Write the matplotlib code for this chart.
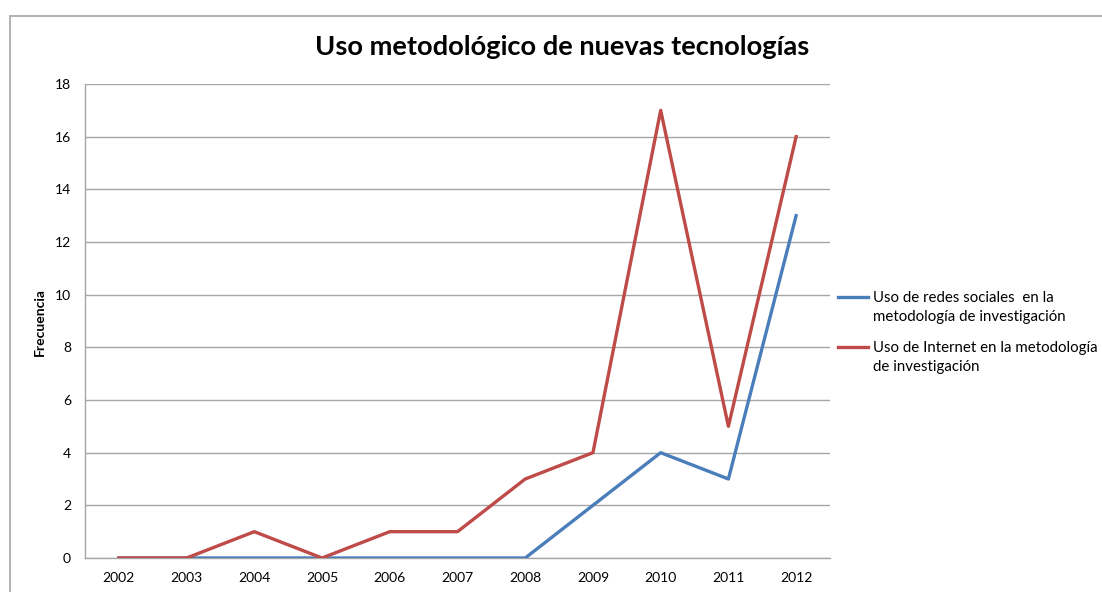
import matplotlib
matplotlib.use("Agg")
import matplotlib.pyplot as plt
from matplotlib.patches import Rectangle
from matplotlib.lines import Line2D

years = ["2002", "2003", "2004", "2005", "2006", "2007", "2008", "2009", "2010", "2011", "2012"]
redes_sociales = [0, 0, 0, 0, 0, 0, 0, 2, 4, 3, 13]
internet = [0, 0, 1, 0, 1, 1, 3, 4, 17, 5, 16]
labels = ["Uso de redes sociales  en la\nmetodología de investigación",
          "Uso de Internet en la metodología\nde investigación"]
title = "Uso metodológico de nuevas tecnologías"
ylabel = "Frecuencia"
yticks = [0, 2, 4, 6, 8, 10, 12, 14, 16, 18]
colors = ["#4a7ebb", "#be4b48"]

plt.rcParams['font.family'] = ['Lato', 'DejaVu Sans']

W, H = 1102, 592
fig = plt.figure(figsize=(W / 100, H / 100), dpi=100)
fig.patch.set_facecolor("white")

# outer chart border
fig.patches.append(Rectangle((10 / W, -0.2), 2.0, 1.2 - 16 / H, transform=fig.transFigure,
                             fill=False, edgecolor="#a6a6a6", linewidth=1.2))

ax = fig.add_axes([85 / W, 1 - 558 / H, (830 - 85) / W, (558 - 84) / H])
x = list(range(len(years)))
ax.plot(x, redes_sociales, color=colors[0], linewidth=2.4, zorder=3)
ax.plot(x, internet, color=colors[1], linewidth=2.4, zorder=4)

ax.set_xlim(-0.5, len(years) - 0.5)
ax.set_ylim(0, 18)
ax.set_yticks(yticks)
ax.set_yticklabels([str(v) for v in yticks], fontsize=10)
ax.set_xticks(x)
ax.set_xticklabels(years, fontsize=10)
ax.tick_params(axis="both", length=0, pad=10, colors="black")
ax.yaxis.grid(True, color="#a6a6a6", linewidth=1.0)
ax.set_axisbelow(True)
for s in ["top", "right"]:
    ax.spines[s].set_visible(False)
for s in ["left", "bottom"]:
    ax.spines[s].set_color("#a6a6a6")
    ax.spines[s].set_linewidth(1.0)

fig.text(562 / W, 1 - 47 / H, title, ha="center", va="center", fontsize=19.6, fontweight="bold")
fig.text(40 / W, 1 - 322 / H, ylabel, ha="center", va="center", rotation=90, fontsize=10,
         fontweight="bold")

# legend (drawn manually to match the original layout)
legend_y = [297, 347]
for lab, col, yy in zip(labels, colors, legend_y):
    fig.add_artist(Line2D([838 / W, 868 / W], [1 - yy / H, 1 - yy / H], transform=fig.transFigure,
                          color=col, linewidth=2.4))
    fig.text(873 / W, 1 - (yy - 6) / H, lab, ha="left", va="top", fontsize=10.8, linespacing=1.5)

fig.savefig("out.png", dpi=100)
